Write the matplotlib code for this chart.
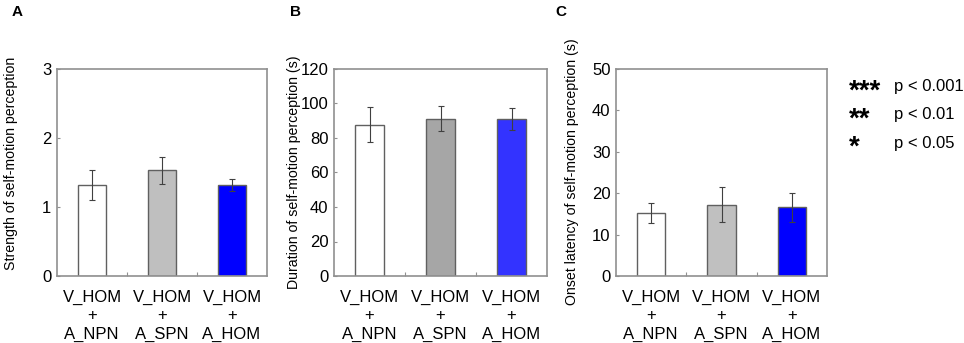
import matplotlib
matplotlib.use("Agg")
import matplotlib.pyplot as plt

plt.rcParams['font.family'] = ['Liberation Sans', 'DejaVu Sans']

conditions = ["V_HOM\n+\nA_NPN", "V_HOM\n+\nA_SPN", "V_HOM\n+\nA_HOM"]

strength_mean = [1.32, 1.53, 1.32]
strength_err = [0.22, 0.19, 0.09]

duration_mean = [87.8, 91.2, 91.2]
duration_err = [10.2, 7.1, 6.4]

onset_mean = [15.2, 17.2, 16.6]
onset_err = [2.5, 4.2, 3.5]

sig_marks = ["***", "**", "*"]
sig_labels = ["p < 0.001", "p < 0.01", "p < 0.05"]

panels = [
    ("A", strength_mean, strength_err, "Strength of self-motion perception",
     3, [0, 1, 2, 3], ["white", "#bfbfbf", "#0000ff"]),
    ("B", duration_mean, duration_err, "Duration of self-motion perception (s)",
     120, [0, 20, 40, 60, 80, 100, 120], ["white", "#a6a6a6", "#3333ff"]),
    ("C", onset_mean, onset_err, "Onset latency of self-motion perception (s)",
     50, [0, 10, 20, 30, 40, 50], ["white", "#c0c0c0", "#0000ff"]),
]

# axes positions in pixels on a 964 x 343 canvas
W, H = 964, 343
x_spans = [(57, 267), (334, 547), (616, 827)]
letter_x = [12, 290, 555]
ylabel_x = [11, 294, 572]
ylabel_y = [163, 172, 172]
top, bottom = 69, 276

fig = plt.figure(figsize=(9.64, 3.43), dpi=100)

for (letter, means, errs, ylabel, ymax, yticks, colors), (x0, x1), lx, yx, yy in zip(
        panels, x_spans, letter_x, ylabel_x, ylabel_y):
    ax = fig.add_axes([x0 / W, 1 - bottom / H, (x1 - x0) / W, (bottom - top) / H])
    xs = range(len(means))
    ax.bar(xs, means, width=0.4, color=colors, edgecolor="#606060", linewidth=1.0)
    ax.errorbar(xs, means, yerr=errs, fmt="none", ecolor="#404040",
                elinewidth=0.8, capsize=2, capthick=0.8)
    ax.set_xlim(-0.5, 2.5)
    ax.set_ylim(0, ymax)
    ax.set_yticks(yticks)
    ax.set_yticklabels([str(t) for t in yticks], fontsize=12)
    ax.tick_params(axis="y", direction="in", length=2.5, width=0.8,
                   color="#909090", pad=4)
    ax.set_xticks([0.5, 1.5])
    ax.set_xticklabels([])
    ax.tick_params(axis="x", direction="in", length=3, width=0.8, color="#909090")
    for i, lab in enumerate(conditions):
        ax.text(i, -0.065 * ymax, lab, ha="center", va="top", fontsize=12,
                linespacing=1.3)
    for sp in ax.spines.values():
        sp.set_color("#909090")
        sp.set_linewidth(1.2)
    fig.text(yx / W, 1 - yy / H, ylabel, rotation=90,
             fontsize=10.2, ha="center", va="center")
    fig.text(lx / W, 1 - 12 / H, letter, fontsize=11, fontweight="bold",
             ha="left", va="center")

for i, (mark, lab) in enumerate(zip(sig_marks, sig_labels)):
    y = 87 + 28 * i
    fig.text(849 / W, 1 - (y + 12) / H, mark, fontsize=20, fontweight="bold",
             ha="left", va="baseline")
    fig.text(894 / W, 1 - y / H, lab, fontsize=12, ha="left", va="center")

fig.savefig("out.png", dpi=100)
